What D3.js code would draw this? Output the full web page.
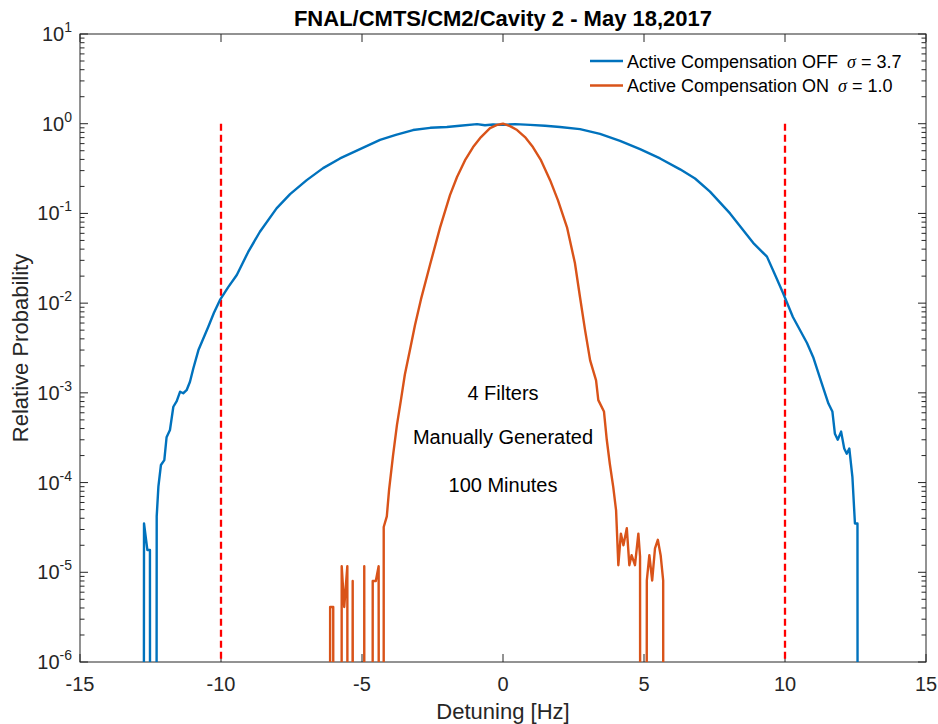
<!DOCTYPE html>
<html>
<head>
<meta charset="utf-8">
<script src="https://cdn.jsdelivr.net/npm/d3@7"></script>
<style>
body { margin: 0; background: #fff; }
text { font-family: "Liberation Sans", Arial, sans-serif; fill: #262626; }
</style>
</head>
<body>
<div id="chart"></div>
<script>
// detuning histograms (0 = empty bin)
var offX = [-12.81, -12.73, -12.61, -12.52, -12.46, -12.36, -12.28, -12.22, -12.13, -12.01, -11.93, -11.81, -11.69, -11.57, -11.45, -11.34, -11.22, -11.10, -10.98, -10.80, -10.45, -10.25, -10.04, -9.75, -9.44, -9.04, -8.62, -8.03, -7.55, -6.96, -6.38, -5.78, -5.07, -4.36, -3.80, -3.19, -2.58, -1.99, -1.53, -0.92, -0.64, -0.35, 0, 0.43, 0.96, 1.49, 2.02, 2.73, 3.44, 4.15, 4.86, 5.57, 6.28, 6.81, 7.34, 8.05, 8.87, 9.36, 9.65, 9.93, 10.28, 10.78, 11.0, 11.30, 11.54, 11.68, 11.77, 11.87, 11.99, 12.10, 12.19, 12.28, 12.39, 12.48, 12.57, 12.63];
var offY = [0, 3.5e-5, 1.77e-5, 1.77e-5, 0, 0, 4.2e-5, 9.0e-5, 1.57e-4, 1.78e-4, 3.2e-4, 3.85e-4, 7.0e-4, 8.1e-4, 1.03e-3, 9.9e-4, 1.07e-3, 1.33e-3, 1.88e-3, 3.0e-3, 5.45e-3, 7.8e-3, 1.08e-2, 1.5e-2, 2.06e-2, 3.7e-2, 6.25e-2, 0.114, 0.164, 0.235, 0.32, 0.41, 0.52, 0.66, 0.75, 0.85, 0.90, 0.92, 0.95, 0.99, 0.96, 0.98, 0.97, 0.99, 0.97, 0.95, 0.92, 0.87, 0.77, 0.645, 0.52, 0.41, 0.31, 0.245, 0.175, 0.10, 0.047, 0.033, 0.0206, 0.013, 7.0e-3, 3.6e-3, 2.5e-3, 1.28e-3, 7.6e-4, 6.2e-4, 3.5e-4, 3.0e-4, 3.7e-4, 2.4e-4, 2.1e-4, 2.4e-4, 1.16e-4, 3.5e-5, 3.5e-5, 0];

var onX = [-6.17, -6.13, -6.02, -5.98, -5.76, -5.72, -5.63, -5.52, -5.46, -5.33, -5.27, -4.95, -4.92, -4.87, -4.67, -4.62, -4.51, -4.41, -4.32, -4.24, -4.23, -4.12, -4.04, -3.90, -3.76, -3.62, -3.48, -3.30, -3.12, -2.91, -2.59, -2.23, -1.88, -1.63, -1.35, -1.06, -0.78, -0.46, -0.21, 0, 0.25, 0.50, 0.78, 1.06, 1.35, 1.67, 1.95, 2.27, 2.55, 2.73, 2.91, 3.09, 3.30, 3.38, 3.58, 3.68, 3.79, 3.91, 4.01, 4.09, 4.18, 4.27, 4.39, 4.48, 4.56, 4.68, 4.80, 4.86, 4.94, 5.01, 5.10, 5.19, 5.29, 5.39, 5.49, 5.59, 5.68, 5.74];
var onY = [0, 4.1e-6, 4.1e-6, 0, 0, 1.17e-5, 4.1e-6, 1.17e-5, 0, 8.0e-6, 0, 0, 1.17e-5, 0, 0, 8.0e-6, 8.0e-6, 1.17e-5, 0, 0, 3.2e-5, 4.2e-5, 8.3e-5, 2.0e-4, 4.4e-4, 8.3e-4, 1.6e-3, 3.0e-3, 5.7e-3, 1.1e-2, 2.66e-2, 7.0e-2, 0.16, 0.255, 0.39, 0.55, 0.71, 0.895, 0.97, 1.0, 0.94, 0.85, 0.71, 0.55, 0.39, 0.235, 0.14, 0.07, 0.028, 0.0117, 5.0e-3, 2.3e-3, 1.38e-3, 8.3e-4, 6.2e-4, 3.0e-4, 1.6e-4, 8.9e-5, 4.9e-5, 1.2e-5, 2.7e-5, 2.0e-5, 3.1e-5, 1.2e-5, 1.55e-5, 1.2e-5, 2.7e-5, 1.5e-5, 0, 0, 8.1e-6, 1.55e-5, 8.1e-6, 1.85e-5, 2.3e-5, 1.55e-5, 8.1e-6, 0];

var seriesNames = ["Active Compensation OFF ", "Active Compensation ON "];
var sigmas = ["3.7", "1.0"];
var limitX = [-10, 10];   // red dashed lines
var limitTop = 1;
var notes = ["4 Filters", "Manually Generated", "100 Minutes"];
var noteY = [1e-3, 3.2e-4, 9.5e-5];
var xTicks = [-15, -10, -5, 0, 5, 10, 15];
var yExps = [-6, -5, -4, -3, -2, -1, 0, 1];

var margin = {top: 34, right: 12, bottom: 62, left: 80},
    W = 938, H = 724,
    width = W - margin.left - margin.right,
    height = H - margin.top - margin.bottom;

var svg = d3.select("#chart").append("svg")
    .attr("width", W).attr("height", H);
var g = svg.append("g").attr("transform", "translate(" + margin.left + "," + margin.top + ")");

var x = d3.scaleLinear().domain([-15, 15]).range([0, width]);
var y = d3.scaleLog().domain([1e-6, 10]).range([height, 0]);

svg.append("defs").append("clipPath").attr("id", "clip")
  .append("rect").attr("width", width).attr("height", height);

// ticks (inward, on all four sides)
var axisCol = "#262626";
var minor = [];
yExps.slice(0, -1).forEach(function(e){
  for (var k = 2; k <= 9; k++) minor.push(k * Math.pow(10, e));
});
var majorLen = 8, minorLen = 4.5;

xTicks.forEach(function(t){
  g.append("line").attr("x1", x(t)).attr("x2", x(t)).attr("y1", height).attr("y2", height - majorLen).attr("stroke", axisCol);
  g.append("line").attr("x1", x(t)).attr("x2", x(t)).attr("y1", 0).attr("y2", majorLen).attr("stroke", axisCol);
  g.append("text").attr("x", x(t)).attr("y", height + 29)
    .attr("text-anchor", "middle").style("font-size", "20px").text(t);
});
yExps.forEach(function(e){
  var yy = y(Math.pow(10, e));
  g.append("line").attr("x1", 0).attr("x2", majorLen).attr("y1", yy).attr("y2", yy).attr("stroke", axisCol);
  g.append("line").attr("x1", width).attr("x2", width - majorLen).attr("y1", yy).attr("y2", yy).attr("stroke", axisCol);
  var lab = g.append("text").attr("x", -8).attr("y", yy + 7)
    .attr("text-anchor", "end").style("font-size", "20px");
  lab.append("tspan").text("10");
  lab.append("tspan").attr("dy", -9).style("font-size", "14px").text(e);
});
minor.forEach(function(v){
  var yy = y(v);
  g.append("line").attr("x1", 0).attr("x2", minorLen).attr("y1", yy).attr("y2", yy).attr("stroke", axisCol);
  g.append("line").attr("x1", width).attr("x2", width - minorLen).attr("y1", yy).attr("y2", yy).attr("stroke", axisCol);
});

g.append("rect").attr("width", width).attr("height", height)
  .attr("fill", "none").attr("stroke", axisCol).attr("stroke-width", 1);

// red dashed limits
limitX.forEach(function(v){
  g.append("line")
    .attr("x1", x(v)).attr("x2", x(v))
    .attr("y1", y(limitTop)).attr("y2", height)
    .attr("stroke", "#ff0000").attr("stroke-width", 2.3)
    .attr("stroke-dasharray", "7,4");
});

// curves, empty bins pushed far below the axis and clipped
var line = d3.line()
  .x(function(d){ return x(d[0]); })
  .y(function(d){ return y(Math.max(d[1], 1e-40)); });

var colors = ["#0072BD", "#D95319"];
var plot = g.append("g").attr("clip-path", "url(#clip)");
[d3.zip(offX, offY), d3.zip(onX, onY)].forEach(function(s, i){
  plot.append("path").datum(s)
    .attr("d", line)
    .attr("fill", "none")
    .attr("stroke", colors[i])
    .attr("stroke-width", 2.4)
    .attr("stroke-linejoin", "round");
});

// annotations
notes.forEach(function(t, i){
  g.append("text").attr("x", x(0)).attr("y", y(noteY[i]))
    .attr("text-anchor", "middle").attr("dominant-baseline", "central")
    .style("font-size", "20px").style("fill", "#000").text(t);
});

// legend
var leg = g.append("g").attr("transform", "translate(" + (590 - margin.left) + "," + (61 - margin.top) + ")");
seriesNames.forEach(function(n, i){
  var r = leg.append("g").attr("transform", "translate(0," + (i * 24.5) + ")");
  r.append("line").attr("x1", 0).attr("x2", 33).attr("stroke", colors[i]).attr("stroke-width", 2.4);
  var t = r.append("text").attr("x", 37).attr("y", 6.5).style("font-size", "18px").style("fill", "#000");
  t.append("tspan").text(n);
  t.append("tspan").attr("dx", 4).style("font-family", "'Liberation Serif', 'Times New Roman', serif")
    .style("font-style", "italic").text("\u03c3");
  t.append("tspan").text(" = " + sigmas[i]);
});

// title and axis labels
svg.append("text").attr("x", margin.left + width / 2).attr("y", 26)
  .attr("text-anchor", "middle").style("font-size", "22px").style("font-weight", "bold")
  .style("fill", "#000").text("FNAL/CMTS/CM2/Cavity 2 - May 18,2017");
svg.append("text").attr("x", margin.left + width / 2).attr("y", 719)
  .attr("text-anchor", "middle").style("font-size", "22px").text("Detuning [Hz]");
svg.append("text").attr("transform", "translate(28," + (margin.top + height / 2) + ") rotate(-90)")
  .attr("text-anchor", "middle").style("font-size", "22px").text("Relative Probability");
</script>
</body>
</html>
